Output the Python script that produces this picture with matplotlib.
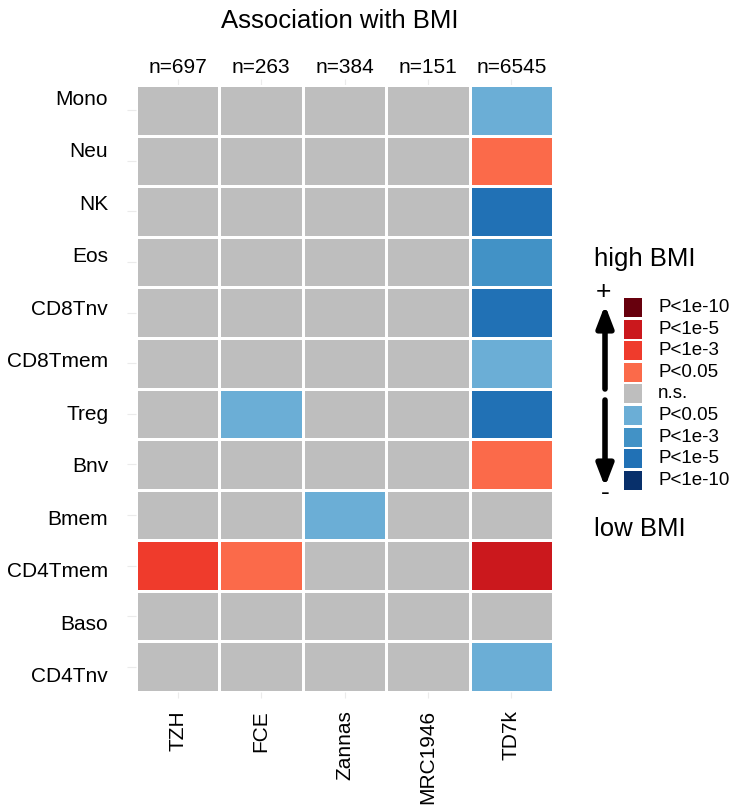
import numpy as np
import matplotlib.pyplot as plt
from matplotlib.colors import ListedColormap, BoundaryNorm
from matplotlib.patches import Rectangle

plt.rcParams['font.family'] = ['Liberation Sans', 'DejaVu Sans']

# Cohorts and cell types
cohorts = ['TZH', 'FCE', 'Zannas', 'MRC1946', 'TD7k']
sample_sizes = ['n=697', 'n=263', 'n=384', 'n=151', 'n=6545']
cell_types = ['Mono', 'Neu', 'NK', 'Eos', 'CD8Tnv', 'CD8Tmem', 'Treg',
              'Bnv', 'Bmem', 'CD4Tmem', 'Baso', 'CD4Tnv']

# Signed significance level: + higher with BMI, - lower with BMI
# 0 = n.s., 1 = P<0.05, 2 = P<1e-3, 3 = P<1e-5, 4 = P<1e-10
levels = [
    [0, 0, 0, 0, -1],   # Mono
    [0, 0, 0, 0, 1],    # Neu
    [0, 0, 0, 0, -3],   # NK
    [0, 0, 0, 0, -2],   # Eos
    [0, 0, 0, 0, -3],   # CD8Tnv
    [0, 0, 0, 0, -1],   # CD8Tmem
    [0, -1, 0, 0, -3],  # Treg
    [0, 0, 0, 0, 1],    # Bnv
    [0, 0, -1, 0, 0],   # Bmem
    [2, 1, 0, 0, 3],    # CD4Tmem
    [0, 0, 0, 0, 0],    # Baso
    [0, 0, 0, 0, -1],   # CD4Tnv
]

legend_levels = [4, 3, 2, 1, 0, -1, -2, -3, -4]
legend_labels = ['P<1e-10', 'P<1e-5', 'P<1e-3', 'P<0.05', 'n.s.',
                 'P<0.05', 'P<1e-3', 'P<1e-5', 'P<1e-10']

palette = ['#08306B', '#2171B5', '#4292C6', '#6BAED6', '#BEBEBE',
           '#FB6A4A', '#EF3B2C', '#CB181D', '#67000D']
cmap = ListedColormap(palette)
norm = BoundaryNorm(np.arange(-4.5, 5.5, 1), cmap.N)

W, H = 731, 808
fig = plt.figure(figsize=(W / 100, H / 100), dpi=100)

# heatmap panel
ax = fig.add_axes([136 / W, 1 - 692 / H, 417 / W, 607 / H])
ax.pcolormesh(np.array(levels), cmap=cmap, norm=norm,
              edgecolors='white', linewidth=1.8)
ax.set_xlim(0, len(cohorts))
ax.set_ylim(len(cell_types), 0)
for s in ax.spines.values():
    s.set_visible(False)

ax.set_xticks(np.arange(len(cohorts)) + 0.5)
ax.set_xticklabels(cohorts, rotation=90, fontsize=15)
ax.tick_params(axis='x', length=4, color='#EBEBEB', pad=9)

# faint row ticks at the cell centres, labels on a slightly wider spacing
ax.set_yticks(np.arange(len(cell_types)) + 0.5)
ax.set_yticklabels([])
ax.tick_params(axis='y', length=6.5, color='#EBEBEB')

rows = ax.secondary_yaxis('left')
rows.set_yticks(np.linspace(0.24, 11.66, len(cell_types)))
rows.set_yticklabels(cell_types, fontsize=15)
rows.tick_params(length=0, pad=20)
for s in rows.spines.values():
    s.set_visible(False)

top = ax.secondary_xaxis('top')
top.set_xticks(np.arange(len(cohorts)) + 0.5)
top.set_xticklabels(sample_sizes, fontsize=15)
top.tick_params(length=4, color='#EBEBEB', pad=2)
for s in top.spines.values():
    s.set_visible(False)

fig.text(340 / W, 1 - 21 / H, 'Association with BMI', fontsize=18.5,
         ha='center', va='center')

# legend drawn in pixel coordinates
lg = fig.add_axes([0, 0, 1, 1])
lg.set_xlim(0, W)
lg.set_ylim(H, 0)
lg.axis('off')

lg.text(594, 259, 'high BMI', fontsize=18.5, ha='left', va='center')
lg.text(594, 529, 'low BMI', fontsize=18.5, ha='left', va='center')
lg.text(603, 292, '+', fontsize=19, ha='center', va='center')
lg.text(605, 493, '-', fontsize=19, ha='center', va='center')

arrow = dict(arrowstyle='-|>,head_length=1.3,head_width=0.5',
             color='black', lw=4, shrinkA=0, shrinkB=0)
lg.annotate('', xy=(605, 305), xytext=(605, 389), arrowprops=arrow)
lg.annotate('', xy=(605, 487), xytext=(605, 400), arrowprops=arrow)

pitch = 21.6
for i, (lev, lab) in enumerate(zip(legend_levels, legend_labels)):
    y0 = 298 + i * pitch
    lg.add_patch(Rectangle((624, y0), 18, 19, facecolor=cmap(norm(lev)),
                           edgecolor='none'))
    lg.text(658, y0 + 9.5, lab, fontsize=13.5, ha='left', va='center')

fig.savefig('out.png', dpi=100)
